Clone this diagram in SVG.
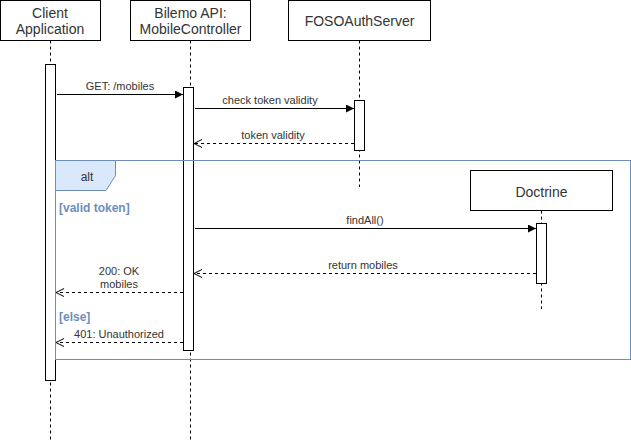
<svg xmlns="http://www.w3.org/2000/svg" width="631" height="441" viewBox="0 0 631 441">
<defs>
<style>
.box{fill:#fff;stroke:#000;stroke-width:1}
.life{stroke:#000;stroke-width:1;stroke-dasharray:3 3;fill:none}
.act{fill:#fff;stroke:#000;stroke-width:1}
.title{font-family:"Liberation Sans",Arial,sans-serif;font-size:14px;fill:#333;text-anchor:middle}
.lbl{font-family:"Liberation Sans",Arial,sans-serif;font-size:11px;fill:#333;text-anchor:middle}
.msg{stroke:#000;stroke-width:1;fill:none}
.ret{stroke:#000;stroke-width:1;fill:none;stroke-dasharray:3 3}
.cond{font-family:"Liberation Sans",Arial,sans-serif;font-size:12px;font-weight:bold;fill:#6c8ebf}
</style>
<marker id="block" markerWidth="10" markerHeight="10" refX="9" refY="4" orient="auto" markerUnits="userSpaceOnUse">
<path d="M1,0 L9,4 L1,8 Z" fill="#000"/>
</marker>
<marker id="open" markerWidth="12" markerHeight="10" refX="9" refY="4.5" orient="auto" markerUnits="userSpaceOnUse">
<path d="M1,0.5 L9,4.5 L1,8.5" fill="none" stroke="#000" stroke-width="1"/>
</marker>
</defs>
<rect width="631" height="441" fill="#fff"/>

<g id="client">
<rect class="box" x="0.5" y="0.5" width="100" height="40"/>
<text class="title" x="50" y="18">Client</text>
<text class="title" x="50" y="34">Application</text>
<line class="life" x1="50.5" y1="40.5" x2="50.5" y2="441"/>
<rect class="act" x="45.5" y="64.5" width="10" height="316"/>
</g>

<g id="bilemo">
<rect class="box" x="130.5" y="0.5" width="120" height="40"/>
<text class="title" x="190.5" y="18">Bilemo API:</text>
<text class="title" x="190.5" y="34">MobileController</text>
<line class="life" x1="190.5" y1="40.5" x2="190.5" y2="441"/>
<rect class="act" x="183.5" y="87.5" width="10" height="263"/>
</g>

<g id="foso">
<rect class="box" x="288.5" y="0.5" width="142" height="40"/>
<text class="title" x="359.5" y="26">FOSOAuthServer</text>
<line class="life" x1="359.5" y1="40.5" x2="359.5" y2="187"/>
<rect class="act" x="354.5" y="100.5" width="10" height="50"/>
</g>

<g id="doctrine">
<rect class="box" x="470.5" y="170.5" width="142" height="40"/>
<text class="title" x="541.5" y="197">Doctrine</text>
<line class="life" x1="541.5" y1="210.5" x2="541.5" y2="309"/>
<rect class="act" x="536.5" y="223.5" width="10" height="60"/>
</g>

<g id="alt-frame">
<rect x="55.5" y="160.5" width="575" height="199" fill="none" stroke="#6c8ebf" stroke-width="1"/>
<path d="M55.5,160.5 L115.5,160.5 L115.5,175.5 L106,190.5 L55.5,190.5 Z" fill="#dae8fc" stroke="#6c8ebf" stroke-width="1"/>
<text class="lbl" x="87" y="181" style="font-size:12px">alt</text>
<text class="cond" x="59" y="212">[valid token]</text>
<text class="cond" x="59" y="321">[else]</text>
</g>

<g id="connectors">
<line class="msg" x1="57" y1="94.5" x2="183" y2="94.5" marker-end="url(#block)"/>
<text class="lbl" x="120" y="90">GET: /mobiles</text>
<line class="msg" x1="195" y1="108.5" x2="354" y2="108.5" marker-end="url(#block)"/>
<text class="lbl" x="270" y="104">check token validity</text>
<line class="ret" x1="354" y1="143.5" x2="194" y2="143.5" marker-end="url(#open)"/>
<text class="lbl" x="273" y="139">token validity</text>
<line class="msg" x1="195" y1="228.5" x2="536" y2="228.5" marker-end="url(#block)"/>
<text class="lbl" x="365" y="224">findAll()</text>
<line class="ret" x1="536" y1="273.5" x2="194" y2="273.5" marker-end="url(#open)"/>
<text class="lbl" x="363" y="269">return mobiles</text>
<line class="ret" x1="183" y1="292.5" x2="56" y2="292.5" marker-end="url(#open)"/>
<text class="lbl" x="119" y="275">200: OK</text>
<text class="lbl" x="119" y="288">mobiles</text>
<line class="ret" x1="183" y1="342.5" x2="56" y2="342.5" marker-end="url(#open)"/>
<text class="lbl" x="119" y="338">401: Unauthorized</text>
</g>
</svg>
